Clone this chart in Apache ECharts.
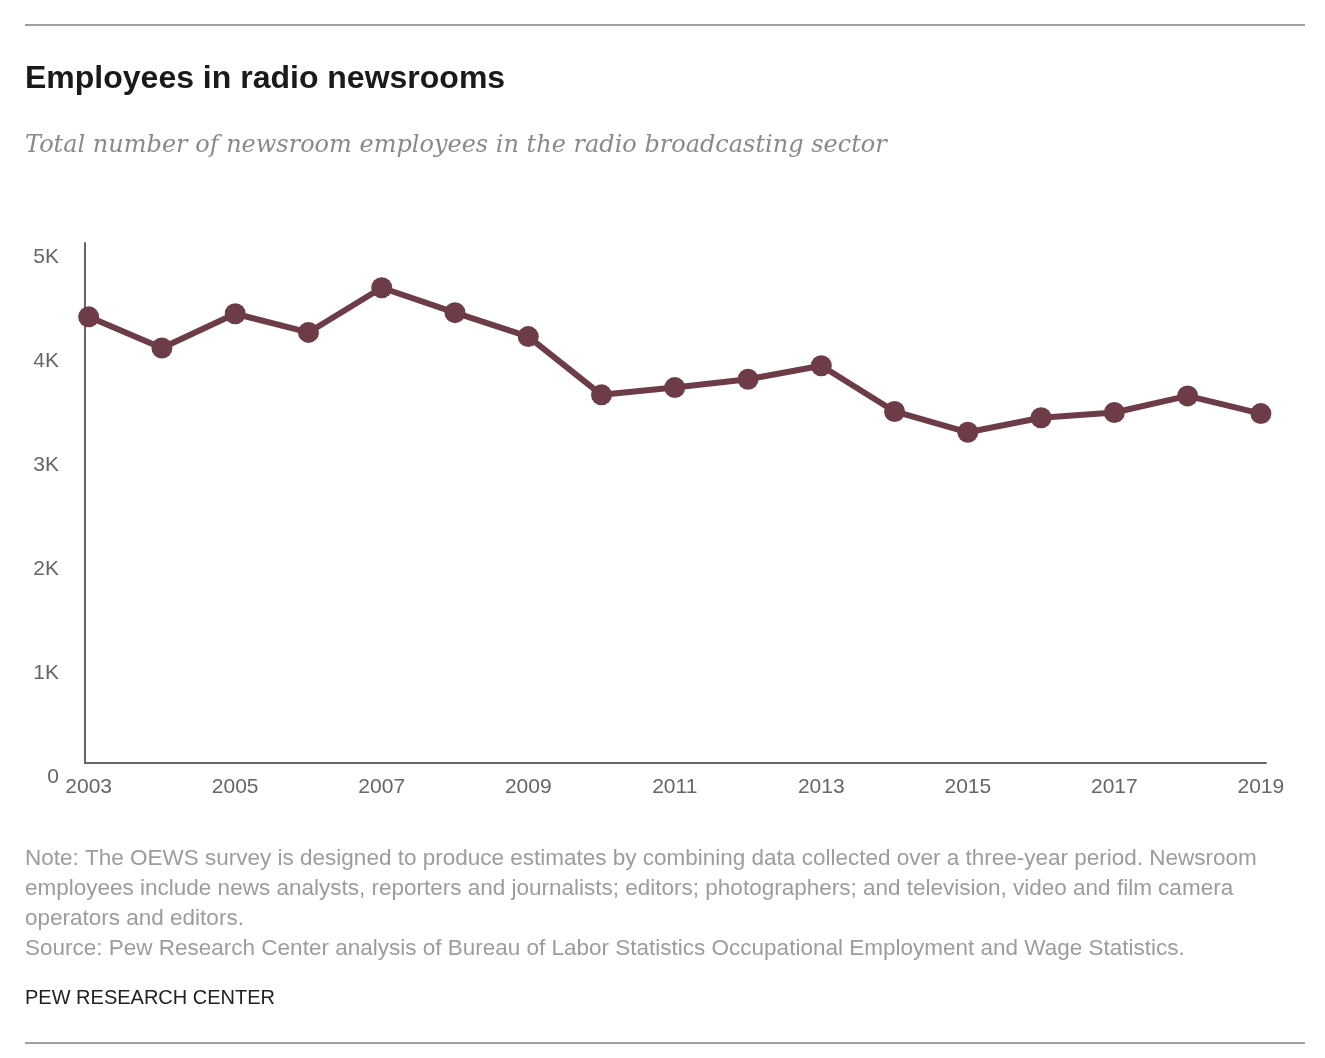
<!DOCTYPE html>
<html>
<head>
<meta charset="utf-8">
<script src="https://cdn.jsdelivr.net/npm/echarts@6/dist/echarts.min.js"></script>
<style>
  html, body { margin: 0; padding: 0; background: #fff; }
  #chart { width: 1325px; height: 1058px; }
</style>
</head>
<body>
<div id="chart"></div>
<script>
// values
var years = [2003, 2004, 2005, 2006, 2007, 2008, 2009, 2010, 2011,
             2012, 2013, 2014, 2015, 2016, 2017, 2018, 2019];
var employees = [4290, 3990, 4320, 4140, 4570, 4330, 4100, 3540, 3610,
                 3690, 3820, 3380, 3180, 3320, 3370, 3530, 3360];
var yearLabels = [2003, 2005, 2007, 2009, 2011, 2013, 2015, 2017, 2019];
var yTicks = [0, 1000, 2000, 3000, 4000, 5000];

var noteLines = [
    'Note: The OEWS survey is designed to produce estimates by combining data collected over a three-year period. Newsroom',
    'employees include news analysts, reporters and journalists; editors; photographers; and television, video and film camera',
    'operators and editors.',
    'Source: Pew Research Center analysis of Bureau of Labor Statistics Occupational Employment and Wage Statistics.'
];

function renderRadioChart(chartDivId) {
    var chart = echarts.init(document.getElementById(chartDivId));

    var points = [];
    for (var i = 0; i < years.length; i++) {
        points.push([years[i], employees[i]]);
    }

    var sans = '"Liberation Sans", Arial, sans-serif';
    var axisGray = '#6b6562';
    var labelGray = '#666666';

    var options = {
        animation: false,
        backgroundColor: '#ffffff',
        grid: {
            left: 85,
            right: 59,
            top: 243,
            bottom: 295,
            containLabel: false
        },
        xAxis: {
            type: 'value',
            min: 2002.95,
            max: 2019.07,
            splitLine: { show: false },
            axisTick: { show: false },
            axisLine: { show: true, lineStyle: { color: axisGray, width: 2 } },
            axisLabel: {
                customValues: yearLabels,
                color: labelGray,
                fontFamily: sans,
                fontSize: 21,
                margin: 14,
                formatter: function (v) { return String(v); }
            }
        },
        yAxis: {
            type: 'value',
            min: 0,
            max: 5000,
            interval: 1000,
            splitLine: { show: false },
            axisTick: { show: false },
            axisLine: { show: true, lineStyle: { color: axisGray, width: 2 } },
            axisLabel: {
                customValues: yTicks,
                color: labelGray,
                fontFamily: sans,
                fontSize: 21,
                margin: 26,
                verticalAlign: 'top',
                lineHeight: 28,
                formatter: function (v) { return v === 0 ? '0' : (v / 1000) + 'K'; }
            }
        },
        series: [
            {
                name: 'Newsroom employees',
                type: 'line',
                data: points,
                symbol: 'circle',
                symbolSize: 21,
                lineStyle: { color: '#6d3c46', width: 6 },
                itemStyle: { color: '#6d3c46' }
            }
        ],
        graphic: [
            {
                type: 'line',
                shape: { x1: 25, y1: 25, x2: 1305, y2: 25 },
                style: { stroke: '#a0a0a0', lineWidth: 2 }
            },
            {
                type: 'text',
                left: 25, top: 63,
                style: {
                    text: 'Employees in radio newsrooms',
                    font: 'bold 32px ' + sans,
                    fill: '#1a1a1a'
                }
            },
            {
                type: 'text',
                left: 25, top: 134,
                style: {
                    text: 'Total number of newsroom employees in the radio broadcasting sector',
                    font: 'italic 24px "DejaVu Serif", Georgia, serif',
                    fill: '#8a8a8a'
                }
            },
            {
                type: 'text',
                left: 25, top: 844,
                style: {
                    text: noteLines.join('\n'),
                    font: '22.5px ' + sans,
                    lineHeight: 30,
                    fill: '#9c9c9c'
                }
            },
            {
                type: 'text',
                left: 25, top: 988,
                style: {
                    text: 'PEW RESEARCH CENTER',
                    font: '20px ' + sans,
                    fill: '#222222'
                }
            },
            {
                type: 'line',
                shape: { x1: 25, y1: 1043, x2: 1305, y2: 1043 },
                style: { stroke: '#a0a0a0', lineWidth: 2 }
            }
        ]
    };

    chart.setOption(options);
}

renderRadioChart('chart');
</script>
</body>
</html>
